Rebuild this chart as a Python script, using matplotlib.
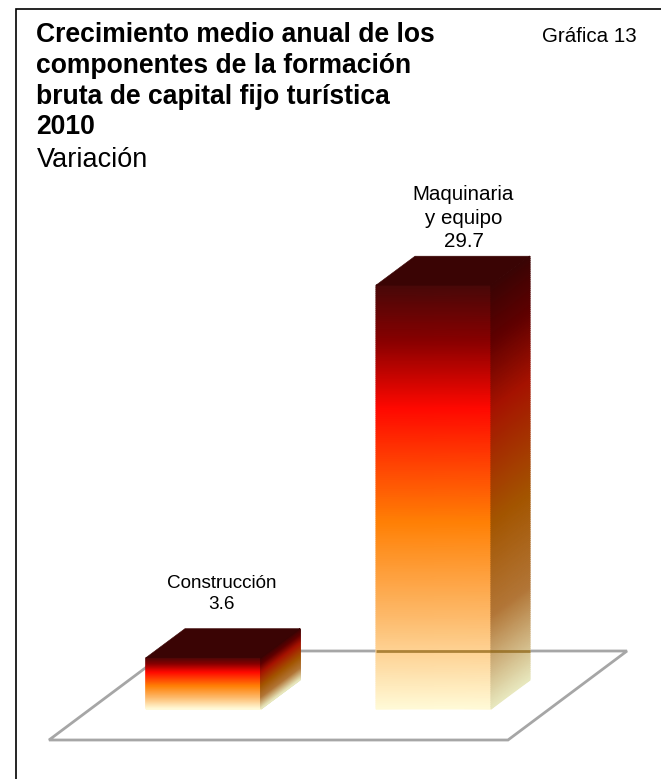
import numpy as np
import matplotlib
matplotlib.use("Agg")
import matplotlib.pyplot as plt
from matplotlib.colors import LinearSegmentedColormap
from matplotlib.lines import Line2D
from matplotlib.patches import Polygon

# ---- data ----
categories = ["Construcción", "Maquinaria\ny equipo"]
values = [3.6, 29.7]
title_lines = ["Crecimiento medio anual de los", "componentes de la formación",
               "bruta de capital fijo turística", "2010"]
subtitle = "Variación"
chart_number = "Gráfica 13"

W, H = 661, 779
plt.rcParams["font.family"] = ["Liberation Sans", "DejaVu Sans"]
fig = plt.figure(figsize=(W / 100, H / 100), dpi=100)
ax = fig.add_axes([0, 0, 1, 1])

# scales: 230 px per category, 14.27 px per unit, baseline at py=709, first centre at px=203.5
PX_X, PX_Y = 230.0, 14.27
ax.set_xlim(-203.5 / PX_X, (W - 203.5) / PX_X)
ax.set_ylim(-(H - 709) / PX_Y, 709 / PX_Y)
ax.axis("off")

def px(x):  # pixel lengths to data lengths
    return x / PX_X
def py(y):
    return y / PX_Y

bar_w = px(115)
dx, dy = px(39), py(29)

def rgb(*c):
    return tuple(v / 255 for v in c)

stops = [0.0, 0.13, 0.29, 0.56, 0.78, 1.0]
front_c = [rgb(72, 8, 8), rgb(135, 0, 0), rgb(255, 8, 0), rgb(255, 128, 5), rgb(253, 185, 105), rgb(255, 250, 215)]
side_c = [rgb(58, 4, 4), rgb(95, 0, 0), rgb(165, 18, 0), rgb(163, 85, 0), rgb(178, 118, 55), rgb(232, 232, 190)]
front_cm = LinearSegmentedColormap.from_list("front", list(zip(stops, front_c)), N=512)
side_cm = LinearSegmentedColormap.from_list("side", list(zip(stops, side_c)), N=512)

# floor (plane under the bars)
fl_left, fl_right, fl_front, fl_back = px(49 - 203.5), px(508 - 203.5), py(709 - 740), py(709 - 651)
fl_shift = px(119)
ax.add_patch(Polygon([(fl_left, fl_front), (fl_right, fl_front),
                      (fl_right + fl_shift, fl_back), (fl_left + fl_shift, fl_back)],
                     closed=True, fill=False, edgecolor="#a6a6a6", lw=2.0, zorder=1, joinstyle="miter"))

label_sizes = [13.6, 14.8]
label_px_shift = [18, 30]
label_px_gap = [20, 9]
label_spacing = [1.25, 1.3]

N = 200
tt = np.linspace(0, 1, N + 1)
uu = np.array([0.0, 1.0])
C = np.outer(tt, np.ones_like(uu))
for i, (cat, val) in enumerate(zip(categories, values)):
    x0, x1 = i - bar_w / 2, i + bar_w / 2
    # front face
    Xf = np.outer(np.ones_like(tt), x0 + (x1 - x0) * uu)
    Yf = np.outer(val * (1 - tt), np.ones_like(uu))
    ax.pcolormesh(Xf, Yf, C, cmap=front_cm, vmin=0, vmax=1, shading="gouraud", zorder=3)
    # side face (sheared)
    Xs = np.outer(np.ones_like(tt), x1 + dx * uu)
    Ys = Yf + np.outer(np.ones_like(tt), dy * uu)
    ax.pcolormesh(Xs, Ys, C, cmap=side_cm, vmin=0, vmax=1, shading="gouraud", zorder=3)
    # top face
    ax.add_patch(Polygon([(x0, val), (x1, val), (x1 + dx, val + dy), (x0 + dx, val + dy)],
                         closed=True, facecolor="#3a0404", edgecolor="#3a0404", lw=0.4, zorder=4))
    # label
    ax.annotate(f"{cat}\n{val:.1f}", (i, val + dy),
                xytext=(label_px_shift[i] * 0.72, label_px_gap[i] * 0.72), textcoords="offset points",
                ha="center", va="baseline", multialignment="center", fontsize=label_sizes[i],
                linespacing=label_spacing[i], color="black", zorder=6)

# floor's back line shows through the tall bar
ax.plot([1 - bar_w / 2, 1 + bar_w / 2 + dx], [fl_back, fl_back], color="#8a6010", lw=2.0, alpha=0.7,
        zorder=5, solid_capstyle="butt")

# frame (left and top edges reach the image border) and heading in figure pixels
fig.add_artist(Line2D([16 / W, 16 / W, 1], [0, 1 - 8.5 / H, 1 - 8.5 / H], transform=fig.transFigure,
                      color="black", lw=1.2, solid_joinstyle="miter"))
for k, line in enumerate(title_lines):
    fig.text(36 / W, 1 - (42 + 30.8 * k) / H, line, fontsize=19.1, fontweight="bold", ha="left", va="baseline")
fig.text(36.5 / W, 1 - 167 / H, subtitle, fontsize=19.5, ha="left", va="baseline")
fig.text(637 / W, 1 - 42 / H, chart_number, fontsize=14.8, ha="right", va="baseline")

fig.savefig("out.png", dpi=100, facecolor="white")
